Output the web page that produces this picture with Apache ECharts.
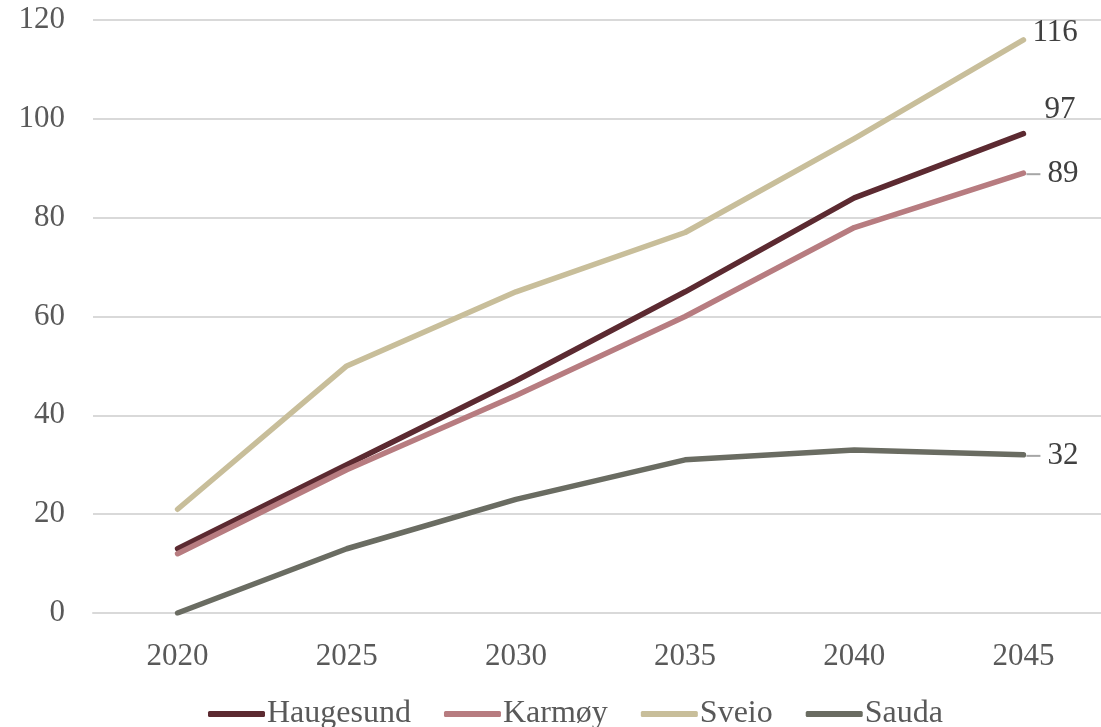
<!DOCTYPE html>
<html>
<head>
<meta charset="utf-8">
<script src="https://cdn.jsdelivr.net/npm/echarts@6/dist/echarts.min.js"></script>
<style>
html, body { margin: 0; padding: 0; background: #fff; }
#chart { width: 1101px; height: 727px; }
</style>
</head>
<body>
<div id="chart"></div>
<script>
var years = ['2020', '2025', '2030', '2035', '2040', '2045'];
var haugesund = [13, 30, 47, 65, 84, 97];
var karmoy = [12, 29, 44, 60, 78, 89];
var sveio = [21, 50, 65, 77, 96, 116];
var sauda = [0, 13, 23, 31, 33, 32];

var font = 'Liberation Serif';

function makeSeries(name, values, color, offset, leader) {
    return {
        name: name,
        type: 'line',
        data: values,
        symbol: 'none',
        lineStyle: { width: 5.5, color: color, cap: 'round', join: 'round' },
        itemStyle: { color: color },
        endLabel: {
            show: true,
            distance: leader ? 3 : 9,
            offset: offset,
            formatter: leader ? '{l|}{t|{c}}' : '{c}',
            fontFamily: font,
            fontSize: 31,
            color: '#404040',
            rich: {
                l: { width: 14, height: 2, backgroundColor: '#a6a6a6' },
                t: { fontFamily: font, fontSize: 31, color: '#404040', padding: [0, 0, 0, 7] }
            }
        }
    };
}

var chart = echarts.init(document.getElementById('chart'));
var option = {
    animation: false,
    grid: { left: 93, top: 20, width: 1015, height: 593, outerBoundsMode: 'none', containLabel: false },
    xAxis: {
        type: 'category',
        data: years,
        axisLine: { show: true, lineStyle: { color: '#d9d9d9', width: 2 } },
        axisTick: { show: false },
        axisLabel: { fontFamily: font, fontSize: 31, color: '#595959', margin: 28 }
    },
    yAxis: {
        type: 'value',
        min: 0,
        max: 120,
        interval: 20,
        axisLine: { show: false },
        axisTick: { show: false },
        splitLine: { lineStyle: { color: '#d9d9d9', width: 2 } },
        axisLabel: { fontFamily: font, fontSize: 31, color: '#595959', margin: 28 }
    },
    legend: {
        top: 698,
        left: 208,
        padding: 0,
        itemWidth: 57,
        itemHeight: 6,
        itemGap: 33,
        icon: 'roundRect',
        textStyle: { fontFamily: font, fontSize: 32, color: '#595959', padding: [0, 0, 0, -3] },
        data: ['Haugesund', 'Karmøy', 'Sveio', 'Sauda']
    },
    series: [
        makeSeries('Haugesund', haugesund, '#5c2a31', [12, -24], false),
        makeSeries('Karmøy', karmoy, '#b77c80', [0, 1], true),
        makeSeries('Sveio', sveio, '#c8be9a', [0, -7], false),
        makeSeries('Sauda', sauda, '#6a6c62', [0, 1], true)
    ]
};
chart.setOption(option);
</script>
</body>
</html>
